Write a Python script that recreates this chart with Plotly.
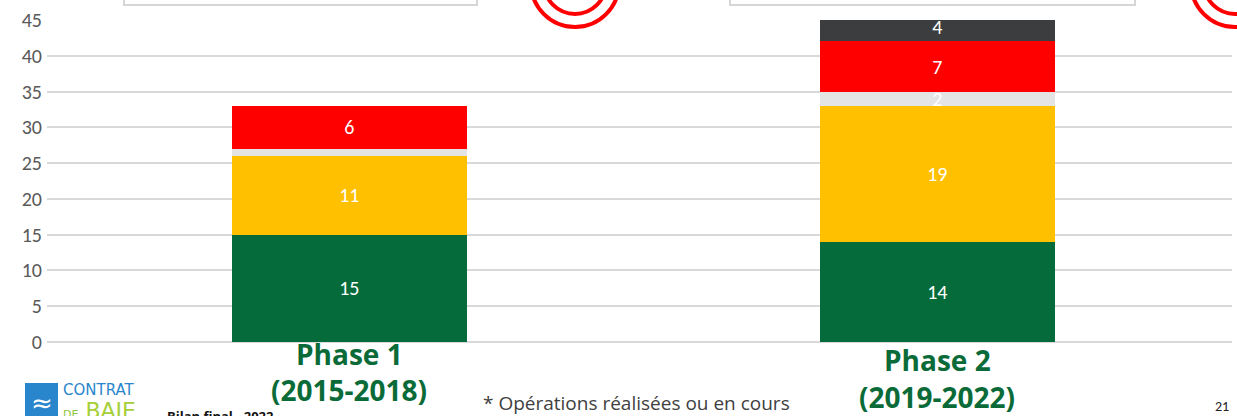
import plotly.graph_objects as go

# ---- data ----
categories = ["Phase 1", "Phase 2"]
cat_line1 = ["Phase 1", "Phase 2"]
cat_line2 = ["(2015-2018)", "(2019-2022)"]
green = [15, 14]
yellow = [11, 19]
light_gray = [1, 2]
red = [6, 7]
dark_gray = [0, 4]
show_label = {
    "green": [True, True],
    "yellow": [True, True],
    "light_gray": [False, True],
    "red": [True, True],
    "dark_gray": [False, True],
}
y_ticks = [0, 5, 10, 15, 20, 25, 30, 35, 40, 45]

W, H = 1237, 416
L, R, T, B = 47, 5, 20, 74
PW, PH = W - L - R, H - T - B


def px_x(px):
    return (px - L) / PW


def px_y(py):
    return (H - B - py) / PH


series = [
    ("green", green, "#066b3a"),
    ("yellow", yellow, "#ffc000"),
    ("light_gray", light_gray, "#e4e4e4"),
    ("red", red, "#ff0000"),
    ("dark_gray", dark_gray, "#3c3d3e"),
]

fig = go.Figure()
for name, vals, col in series:
    txt = [str(v) if s else "" for v, s in zip(vals, show_label[name])]
    fig.add_trace(go.Bar(
        x=categories, y=vals, name=name, marker=dict(color=col, line=dict(width=0)),
        width=0.4, text=txt, textposition="inside", insidetextanchor="middle",
        textangle=0, constraintext="none",
        textfont=dict(color="white", size=20, family="Carlito, Open Sans, sans-serif"),
        hoverinfo="skip",
    ))

shapes = []
# boxes at the top
for x0, x1 in [(124, 477), (730, 1135)]:
    shapes.append(dict(type="rect", xref="paper", yref="paper",
                       x0=px_x(x0), x1=px_x(x1), y0=px_y(5), y1=px_y(-20),
                       line=dict(color="#d6d6d6", width=2), fillcolor="white", layer="above"))
# red double circles
for cx in [575, 1235]:
    for r in [44, 31]:
        shapes.append(dict(type="circle", xref="paper", yref="paper",
                           x0=px_x(cx - r), x1=px_x(cx + r), y0=px_y(-17 + r), y1=px_y(-17 - r),
                           line=dict(color="#ff0000", width=4), layer="above"))
# logo square
shapes.append(dict(type="rect", xref="paper", yref="paper",
                   x0=px_x(25), x1=px_x(58), y0=px_y(430), y1=px_y(383),
                   line=dict(width=0), fillcolor="#2a86cc", layer="above"))

annotations = []
cat_font = "Liberation Sans Narrow, Open Sans, sans-serif"
for i, c in enumerate(categories):
    yy1 = 354 if i == 0 else 360
    yy2 = 390 if i == 0 else 397
    annotations.append(dict(x=c, y=px_y(yy1), xref="x", yref="paper", text=f"<b>{cat_line1[i]}</b>",
                            showarrow=False, yanchor="middle",
                            font=dict(size=28, color="#0a6b38", family=cat_font)))
    annotations.append(dict(x=c, y=px_y(yy2), xref="x", yref="paper", text=f"<b>{cat_line2[i]}</b>",
                            showarrow=False, yanchor="middle",
                            font=dict(size=28, color="#0a6b38", family=cat_font)))

annotations.append(dict(x=px_x(636), y=px_y(403), xref="paper", yref="paper",
                        text="* Opérations réalisées ou en cours", showarrow=False,
                        xanchor="center", yanchor="middle",
                        font=dict(size=19, color="#404040", family="Open Sans, sans-serif")))
annotations.append(dict(x=px_x(1222), y=px_y(407), xref="paper", yref="paper", text="21",
                        showarrow=False, xanchor="center", yanchor="middle",
                        font=dict(size=14, color="#222222", family="Carlito, Open Sans, sans-serif")))
annotations.append(dict(x=px_x(165), y=px_y(416), xref="paper", yref="paper", text="<b>Bilan final - 2022</b>",
                        showarrow=False, xanchor="left", yanchor="middle",
                        font=dict(size=13, color="#111111", family="Open Sans, sans-serif")))
annotations.append(dict(x=px_x(41.5), y=px_y(403), xref="paper", yref="paper", text="≈",
                        showarrow=False, xanchor="center", yanchor="middle",
                        font=dict(size=26, color="white", family="DejaVu Sans")))
annotations.append(dict(x=px_x(61), y=px_y(390), xref="paper", yref="paper", text="CONTRAT",
                        showarrow=False, xanchor="left", yanchor="middle",
                        font=dict(size=15, color="#2a86cc", family="Liberation Sans Narrow, DejaVu Sans")))
annotations.append(dict(x=px_x(61), y=px_y(411), xref="paper", yref="paper",
                        text="<span style='font-size:11px;color:#8dc63f'>DE</span> BAIE",
                        showarrow=False, xanchor="left", yanchor="middle",
                        font=dict(size=22, color="#a6cf38", family="DejaVu Sans")))

fig.update_layout(
    barmode="stack", bargap=0.6,
    width=W, height=H, margin=dict(l=L, r=R, t=T, b=B, autoexpand=False),
    paper_bgcolor="white", plot_bgcolor="white", showlegend=False,
    xaxis=dict(range=[-0.514, 1.501], showticklabels=False, showgrid=False, zeroline=False,
               showline=False, ticks=""),
    yaxis=dict(range=[0, 45], tickvals=y_ticks, showgrid=True, gridcolor="#d9d9d9", gridwidth=1.5,
               zeroline=True, zerolinecolor="#d9d9d9", zerolinewidth=1.5, showline=False,
               ticks="", ticklabelstandoff=4,
               tickfont=dict(size=20, color="#595959", family="Carlito, Open Sans, sans-serif")),
    shapes=shapes, annotations=annotations,
)
fig.write_html("out.html", config={"displayModeBar": False},
               post_script="document.body.style.margin='0';document.body.style.overflow='hidden';")
